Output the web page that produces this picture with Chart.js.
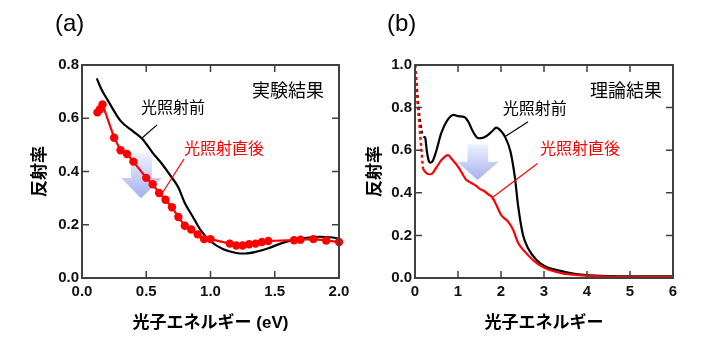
<!DOCTYPE html>
<html>
<head>
<meta charset="utf-8">
<script src="https://cdn.jsdelivr.net/npm/chart.js@4"></script>
<style>
  html, body { margin: 0; padding: 0; background: #fff; }
  #wrap { position: relative; width: 710px; height: 346px; }
  .panel { position: absolute; top: 0; width: 355px; height: 346px; }
</style>
</head>
<body>
<div id="wrap">
  <div class="panel" style="left:0"><canvas id="chartA" width="355" height="346"></canvas></div>
  <div class="panel" style="left:355px"><canvas id="chartB" width="355" height="346"></canvas></div>
</div>
<script>
// (a) 実験結果 — 光照射前 (black line)
const expBeforeX = [0.115, 0.15, 0.2, 0.3, 0.4, 0.47, 0.55, 0.62, 0.68, 0.75, 0.8, 0.86, 0.92, 1.0, 1.1, 1.2, 1.27, 1.35, 1.45, 1.55, 1.65, 1.75, 1.85, 1.95, 2.0];
const expBeforeY = [0.75, 0.71, 0.668, 0.59, 0.55, 0.522, 0.47, 0.43, 0.39, 0.34, 0.282, 0.232, 0.182, 0.138, 0.108, 0.094, 0.092, 0.098, 0.112, 0.13, 0.143, 0.151, 0.155, 0.152, 0.148];
// (a) 光照射直後 (red markers)
const expAfterX = [0.12, 0.14, 0.16, 0.25, 0.30, 0.35, 0.40, 0.50, 0.55, 0.60, 0.65, 0.70, 0.75, 0.80, 0.85, 0.90, 0.95, 1.00, 1.15, 1.20, 1.25, 1.30, 1.35, 1.40, 1.45, 1.65, 1.70, 1.80, 1.90, 2.00];
const expAfterY = [0.622, 0.634, 0.652, 0.527, 0.48, 0.466, 0.437, 0.376, 0.352, 0.319, 0.294, 0.266, 0.229, 0.196, 0.182, 0.164, 0.146, 0.146, 0.129, 0.122, 0.122, 0.127, 0.129, 0.135, 0.139, 0.142, 0.144, 0.146, 0.141, 0.135];

// (b) 理論結果
const thBeforeDashX = [0.0, 0.04, 0.08, 0.13, 0.18, 0.24];
const thBeforeDashY = [1.0, 0.9, 0.8, 0.72, 0.67, 0.66];
const thBeforeX = [0.24, 0.28, 0.32, 0.36, 0.42, 0.5, 0.61, 0.75, 0.9, 1.0, 1.155, 1.25, 1.31, 1.4, 1.48, 1.6, 1.7, 1.8, 1.89, 2.0, 2.09, 2.22, 2.32, 2.4, 2.51, 2.63, 2.82, 3.02, 3.33, 3.71, 4.18, 4.8, 6.0];
const thBeforeY = [0.66, 0.59, 0.55, 0.541, 0.553, 0.6, 0.68, 0.74, 0.766, 0.76, 0.755, 0.73, 0.703, 0.67, 0.656, 0.66, 0.672, 0.69, 0.706, 0.69, 0.664, 0.594, 0.477, 0.336, 0.203, 0.14, 0.086, 0.055, 0.036, 0.02, 0.011, 0.008, 0.008];
const thAfterDashX = [0.0, 0.03, 0.07, 0.11, 0.15, 0.186];
const thAfterDashY = [1.0, 0.9, 0.8, 0.7, 0.6, 0.512];
const thAfterX = [0.186, 0.25, 0.32, 0.38, 0.5, 0.62, 0.77, 0.85, 1.0, 1.1, 1.19, 1.3, 1.39, 1.5, 1.62, 1.72, 1.79, 1.89, 2.0, 2.08, 2.16, 2.28, 2.4, 2.55, 2.78, 3.02, 3.4, 4.0, 4.8, 5.5, 6.0];
const thAfterY = [0.512, 0.495, 0.487, 0.488, 0.52, 0.555, 0.577, 0.56, 0.523, 0.49, 0.461, 0.447, 0.4375, 0.42, 0.406, 0.39, 0.38, 0.344, 0.297, 0.28, 0.266, 0.227, 0.164, 0.125, 0.078, 0.047, 0.023, 0.011, 0.005, 0.005, 0.005];

const xTicksA = [0, 0.5, 1.0, 1.5, 2.0];
const yTicksA = [0, 0.2, 0.4, 0.6, 0.8];
const xTicksB = [0, 1, 2, 3, 4, 5, 6];
const yTicksB = [0, 0.2, 0.4, 0.6, 0.8, 1.0];

const pts = (xs, ys) => xs.map((x, i) => ({ x, y: ys[i] }));

const FONT = '"Liberation Sans", Arial, "Noto Sans CJK JP", sans-serif';
const RED = '#ff0000';

// frame, inward ticks, titles, labels, leader lines and the blue arrow
const frameAndNotes = {
  id: 'frameAndNotes',
  beforeDatasetsDraw(chart, args, o) {
    const { ctx, scales: { x, y } } = chart;
    const a = o.arrow;
    const l = x.getPixelForValue(a.shaft[0]), r = x.getPixelForValue(a.shaft[1]);
    const hl = x.getPixelForValue(a.head[0]), hr = x.getPixelForValue(a.head[1]);
    const top = y.getPixelForValue(a.top), base = y.getPixelForValue(a.base);
    const tx = x.getPixelForValue(a.tip[0]), ty = y.getPixelForValue(a.tip[1]);
    const g = ctx.createLinearGradient(0, top, 0, ty);
    g.addColorStop(0, '#eef1fd');
    g.addColorStop(1, '#a6b0ee');
    ctx.save();
    ctx.fillStyle = g;
    ctx.beginPath();
    ctx.moveTo(l, top); ctx.lineTo(r, top); ctx.lineTo(r, base); ctx.lineTo(hr, base);
    ctx.lineTo(tx, ty); ctx.lineTo(hl, base); ctx.lineTo(l, base);
    ctx.closePath();
    ctx.fill();
    ctx.restore();
  },
  afterDatasetsDraw(chart, args, o) {
    const { ctx, chartArea: ca, scales: { x, y } } = chart;
    ctx.save();
    // frame
    ctx.strokeStyle = '#404040';
    ctx.lineWidth = 2;
    ctx.strokeRect(ca.left, ca.top, ca.right - ca.left, ca.bottom - ca.top);
    // inward ticks on all four sides
    ctx.lineWidth = 1.5;
    ctx.beginPath();
    x.ticks.forEach(t => {
      const px = x.getPixelForValue(t.value);
      if (px <= ca.left + 1 || px >= ca.right - 1) return;
      ctx.moveTo(px, ca.bottom); ctx.lineTo(px, ca.bottom - 7);
      ctx.moveTo(px, ca.top); ctx.lineTo(px, ca.top + 7);
    });
    y.ticks.forEach(t => {
      const py = y.getPixelForValue(t.value);
      if (py <= ca.top + 1 || py >= ca.bottom - 1) return;
      ctx.moveTo(ca.left, py); ctx.lineTo(ca.left + 7, py);
      ctx.moveTo(ca.right, py); ctx.lineTo(ca.right - 7, py);
    });
    ctx.stroke();

    // leader lines
    ctx.lineWidth = 1.2;
    o.leaders.forEach(ld => {
      ctx.strokeStyle = ld.color;
      ctx.beginPath();
      ctx.moveTo(x.getPixelForValue(ld.from[0]), y.getPixelForValue(ld.from[1]));
      ctx.lineTo(x.getPixelForValue(ld.to[0]), y.getPixelForValue(ld.to[1]));
      ctx.stroke();
    });

    // texts inside the plot
    ctx.textAlign = 'center';
    ctx.textBaseline = 'middle';
    o.notes.forEach(n => {
      ctx.fillStyle = n.color;
      ctx.font = n.size + 'px ' + FONT;
      ctx.fillText(n.text, x.getPixelForValue(n.at[0]), y.getPixelForValue(n.at[1]));
    });

    // panel label
    ctx.fillStyle = '#000';
    ctx.textAlign = 'left';
    ctx.textBaseline = 'top';
    ctx.font = '24px ' + FONT;
    ctx.fillText(o.panel, o.panelX, 12);

    // axis titles
    ctx.font = 'bold 17px ' + FONT;
    ctx.textAlign = 'center';
    ctx.textBaseline = 'middle';
    ctx.fillText(o.xTitle, (ca.left + ca.right) / 2, 323);
    ctx.save();
    ctx.translate(o.yTitleX, (ca.top + ca.bottom) / 2);
    ctx.rotate(-Math.PI / 2);
    ctx.fillText('反射率', 0, 0);
    ctx.restore();
    ctx.restore();
  }
};

function makeChart(id, datasets, xr, yr, yWidth, padRight, notes) {
  return new Chart(document.getElementById(id), {
    type: 'line',
    data: { datasets },
    plugins: [frameAndNotes],
    options: {
      responsive: false,
      animation: false,
      layout: { padding: { top: 65, right: padRight, left: 0, bottom: 0 } },
      plugins: { legend: { display: false }, tooltip: { enabled: false }, frameAndNotes: notes },
      scales: {
        x: {
          type: 'linear', min: xr.ticks[0], max: xr.ticks[xr.ticks.length - 1],
          afterFit: s => { s.height = 68; },
          afterBuildTicks: s => { s.ticks = xr.ticks.map(v => ({ value: v })); },
          grid: { display: false, drawTicks: false }, border: { display: false },
          ticks: { padding: 5, color: '#111', font: { family: FONT, size: 15, weight: 'bold' }, callback: xr.fmt }
        },
        y: {
          min: yr.ticks[0], max: yr.ticks[yr.ticks.length - 1],
          afterFit: s => { s.width = yWidth; },
          afterBuildTicks: s => { s.ticks = yr.ticks.map(v => ({ value: v })); },
          grid: { display: false, drawTicks: false }, border: { display: false },
          ticks: { padding: 3, color: '#111', font: { family: FONT, size: 15, weight: 'bold' }, callback: v => v.toFixed(1) }
        }
      }
    }
  });
}

makeChart('chartA', [
  { data: pts(expAfterX, expAfterY), borderColor: RED, backgroundColor: RED, borderWidth: 2.2,
    pointRadius: 4.2, pointBorderWidth: 0, tension: 0, clip: false, order: 1 },
  { data: pts(expBeforeX, expBeforeY), borderColor: '#000', borderWidth: 2.2, pointRadius: 0,
    cubicInterpolationMode: 'monotone', order: 2 }
], { ticks: xTicksA, fmt: v => v.toFixed(1) }, { ticks: yTicksA }, 82, 16, {
  panel: '(a)', panelX: 55, xTitle: '光子エネルギー (eV)', yTitleX: 40,
  arrow: { shaft: [0.381, 0.545], head: [0.304, 0.623], top: 0.469, base: 0.376, tip: [0.459, 0.30] },
  leaders: [
    { color: '#000', from: [0.584, 0.575], to: [0.465, 0.525] },
    { color: RED, from: [0.794, 0.447], to: [0.63, 0.323] }
  ],
  notes: [
    { text: '実験結果', at: [1.603, 0.699], size: 18, color: '#000' },
    { text: '光照射前', at: [0.708, 0.638], size: 16, color: '#000' },
    { text: '光照射直後', at: [1.105, 0.481], size: 16, color: RED }
  ]
});

makeChart('chartB', [
  { data: pts(thAfterDashX, thAfterDashY), borderColor: RED, borderWidth: 2.4, borderDash: [3, 3],
    pointRadius: 0, cubicInterpolationMode: 'monotone', order: 1 },
  { data: pts(thAfterX, thAfterY), borderColor: RED, borderWidth: 2.2, pointRadius: 0,
    cubicInterpolationMode: 'monotone', order: 2 },
  { data: pts(thBeforeDashX, thBeforeDashY), borderColor: '#000', borderWidth: 2.4, borderDash: [3, 3],
    pointRadius: 0, cubicInterpolationMode: 'monotone', order: 3 },
  { data: pts(thBeforeX, thBeforeY), borderColor: '#000', borderWidth: 2.2, pointRadius: 0,
    cubicInterpolationMode: 'monotone', order: 4 }
], { ticks: xTicksB, fmt: v => String(v) }, { ticks: yTicksB }, 60, 37, {
  panel: '(b)', panelX: 32, xTitle: '光子エネルギー', yTitleX: 20,
  arrow: { shaft: [1.22, 1.70], head: [0.978, 1.95], top: 0.628, base: 0.546, tip: [1.453, 0.46] },
  leaders: [
    { color: '#000', from: [2.63, 0.734], to: [2.088, 0.663] },
    { color: RED, from: [2.85, 0.538], to: [1.793, 0.377] }
  ],
  notes: [
    { text: '理論結果', at: [4.906, 0.873], size: 18, color: '#000' },
    { text: '光照射前', at: [2.787, 0.789], size: 16, color: '#000' },
    { text: '光照射直後', at: [3.835, 0.601], size: 16, color: RED }
  ]
});
</script>
</body>
</html>
